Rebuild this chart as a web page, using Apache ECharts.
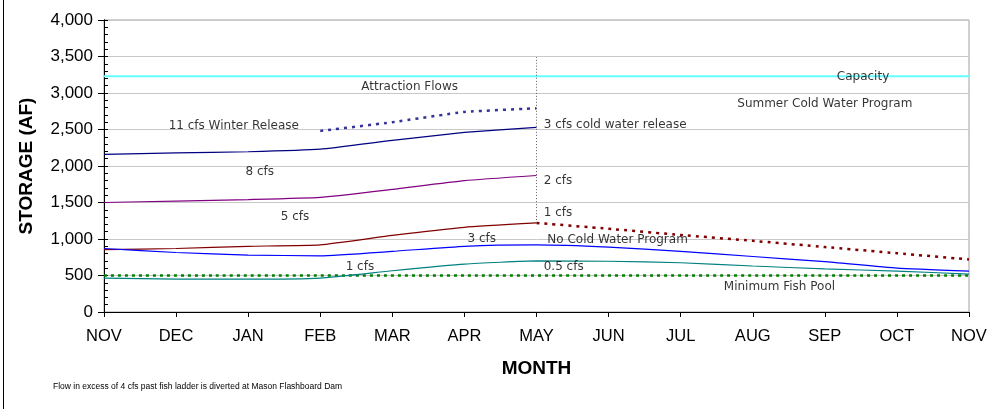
<!DOCTYPE html>
<html>
<head>
<meta charset="utf-8">
<script src="https://cdn.jsdelivr.net/npm/echarts@6/dist/echarts.min.js"></script>
<style>
  html, body { margin: 0; padding: 0; background: #fff; }
  #chart { width: 993px; height: 409px; }
</style>
</head>
<body>
<div id="chart"></div>
<script>
// months along the x axis (NOV to NOV)
const months = ['NOV', 'DEC', 'JAN', 'FEB', 'MAR', 'APR', 'MAY', 'JUN', 'JUL', 'AUG', 'SEP', 'OCT', 'NOV'];

// storage (AF)
const winter11 = [2160, 2180, 2195, 2230, 2350, 2460, 2530];      // NOV..MAY
const attraction = [2480, 2600, 2740, 2790];                      // FEB..MAY
const cfs8 = [1500, 1520, 1540, 1570, 1680, 1800, 1870];          // NOV..MAY
const cfs5 = [855, 870, 900, 920, 1050, 1160, 1220];              // NOV..MAY
const summerCold = [1220, 1140, 1055, 975, 890, 805, 720];        // MAY..NOV
const cfs3 = [870, 815, 780, 770, 830, 900, 920, 890, 830, 760, 690, 600, 560];
const cfs1 = [465, 450, 450, 465, 565, 655, 700, 695, 675, 630, 590, 560, 520];
const capacity = 3230;
const minPool = 500;
const mayMarker = [1220, 3520];

// text notes: [text, month index, storage, align]
const notes = [
  ['11 cfs Winter Release', 1.8, 2548, 'center'],
  ['8 cfs', 2.16, 1918, 'center'],
  ['5 cfs', 2.65, 1301, 'center'],
  ['1 cfs', 3.55, 616, 'center'],
  ['Attraction Flows', 4.24, 3082, 'center'],
  ['3 cfs', 5.24, 1000, 'center'],
  ['3 cfs cold water release', 6.1, 2562, 'left'],
  ['2 cfs', 6.1, 1795, 'left'],
  ['1 cfs', 6.1, 1356, 'left'],
  ['No Cold Water Program', 6.15, 986, 'left'],
  ['0.5 cfs', 6.1, 616, 'left'],
  ['Capacity', 10.53, 3219, 'center'],
  ['Summer Cold Water Program', 10.0, 2849, 'center'],
  ['Minimum Fish Pool', 9.37, 342, 'center']
];

const pairs = (arr, start) => arr.map((v, i) => [start + i, v]);
const last = months.length - 1;

const chart = echarts.init(document.getElementById('chart'));

function line(name, data, color, width, type) {
  return {
    name, type: 'line', data, symbol: 'none', smooth: 0.15,
    lineStyle: { color, width, type: type || 'solid' },
    z: 3, silent: true
  };
}

chart.setOption({
  animation: false,
  grid: { left: 104, right: 24, top: 20, bottom: 97, show: true, borderColor: '#a0a0a0', borderWidth: 1 },
  xAxis: {
    type: 'value', min: 0, max: last, interval: 1,
    name: 'MONTH', nameLocation: 'middle', nameGap: 47,
    nameTextStyle: { fontFamily: 'Liberation Sans', fontWeight: 'bold', fontSize: 19, color: '#000' },
    axisLine: { lineStyle: { color: '#000' } },
    axisTick: { length: 5, lineStyle: { color: '#000' } },
    axisLabel: {
      formatter: v => months[v], margin: 16,
      fontFamily: 'Liberation Sans', fontSize: 16.5, color: '#000'
    },
    splitLine: { show: false }
  },
  yAxis: [{
    type: 'value', min: 0, max: 4000, interval: 500,
    name: 'STORAGE (AF)', nameLocation: 'middle', nameGap: 68,
    nameTextStyle: { fontFamily: 'Liberation Sans', fontWeight: 'bold', fontSize: 19, color: '#000' },
    axisLine: { show: true, lineStyle: { color: '#000' } },
    axisTick: { show: true, length: 6, lineStyle: { color: '#000' } },
    axisLabel: {
      formatter: v => v.toLocaleString('en-US'), margin: 11,
      fontFamily: 'Liberation Sans', fontSize: 17, color: '#000'
    },
    splitLine: { lineStyle: { color: '#c8c8c8', width: 1 } }
  }, {
    type: 'value', min: 0, max: 4000, interval: 100, position: 'left',
    axisLine: { show: true, lineStyle: { color: '#000' } },
    axisTick: { show: true, inside: true, length: 4, lineStyle: { color: '#000' } },
    axisLabel: { show: false },
    splitLine: { show: false }
  }],
  graphic: [{
    type: 'line', shape: { x1: 3.5, y1: 0, x2: 3.5, y2: 409 },
    style: { stroke: '#000', lineWidth: 1 }
  }, {
    type: 'text', left: 53, top: 382,
    style: {
      text: 'Flow in excess of 4 cfs past fish ladder is diverted at Mason Flashboard Dam',
      fontFamily: 'Liberation Sans', fontSize: 8.5, fill: '#000'
    }
  }],
  series: [
    line('Capacity', [[0, capacity], [last, capacity]], '#66ffff', 2),
    line('Minimum Fish Pool', [[0, minPool], [last, minPool]], '#008000', 2.5, [3, 4]),
    line('11 cfs Winter Release', pairs(winter11, 0), '#000080', 1.2),
    line('Attraction Flows', pairs(attraction, 3), '#333399', 2.5, [3, 5]),
    line('8 cfs', pairs(cfs8, 0), '#800080', 1.2),
    line('5 cfs', pairs(cfs5, 0), '#800000', 1.2),
    line('Summer Cold Water Program', pairs(summerCold, 6), '#800000', 2.5, [3, 5]),
    line('3 cfs', pairs(cfs3, 0), '#0000ff', 1.2),
    line('1 cfs', pairs(cfs1, 0), '#008080', 1.2),
    line('May', mayMarker.map(v => [6, v]), '#606060', 1, [1, 2]),
    {
      name: 'notes', type: 'scatter', symbolSize: 0, silent: true, z: 5,
      data: notes.map(n => ({
        value: [n[1], n[2]],
        label: { formatter: n[0], align: n[3] }
      })),
      label: {
        show: true, position: 'inside', verticalAlign: 'middle',
        fontFamily: 'DejaVu Sans', fontSize: 12, color: '#000'
      }
    }
  ]
});
</script>
</body>
</html>
